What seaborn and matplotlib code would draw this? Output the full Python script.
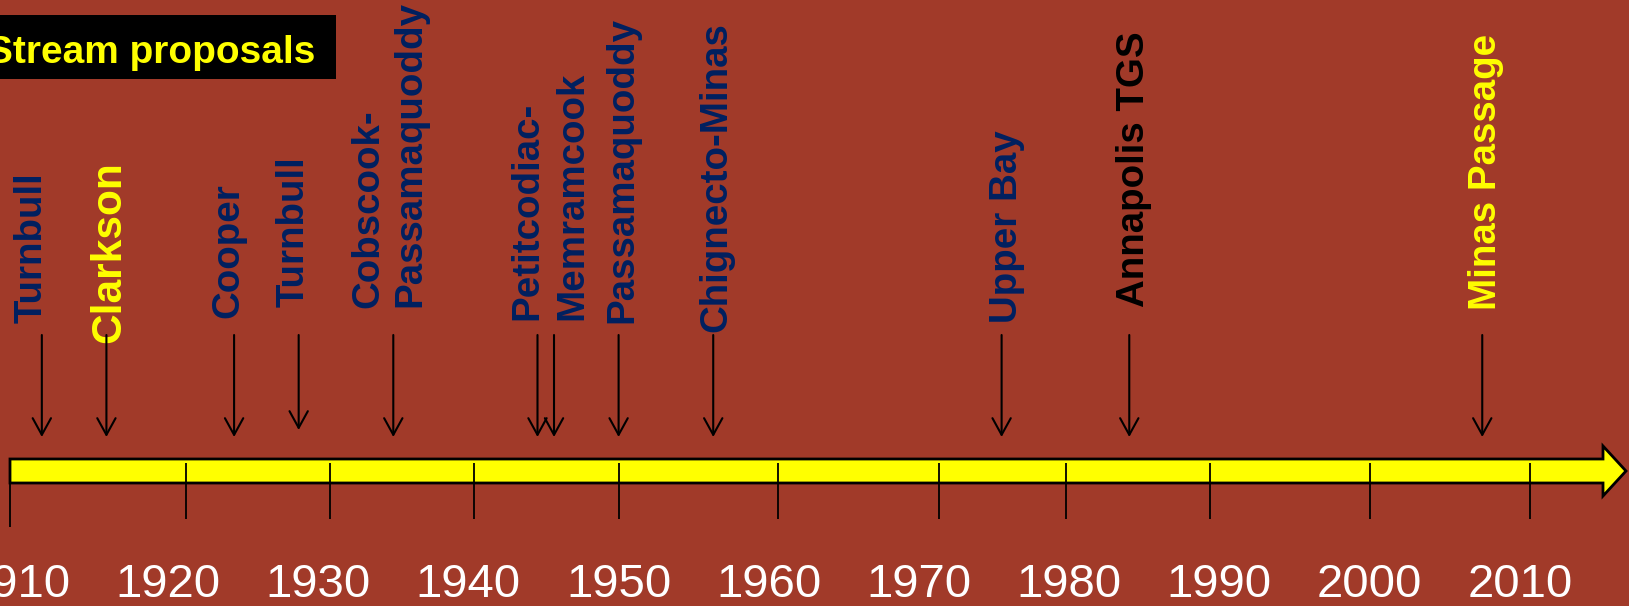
import matplotlib
matplotlib.use("Agg")
import matplotlib.pyplot as plt
from matplotlib.patches import Polygon, Rectangle
import seaborn as sns

# proposal arrows (year each arrow points at)
arrow_years = [1911.6, 1915.9, 1924.4, 1928.7, 1935.0, 1944.6, 1945.7,
               1950.0, 1956.3, 1975.5, 1984.0, 2007.5]

# label lines and where they sit along the timeline (year of the text baseline)
label_text = ['Turnbull', 'Clarkson', 'Cooper', 'Turnbull', 'Cobscook-',
              'Passamaquoddy', 'Petitcodiac-', 'Memramcook', 'Passamaquoddy',
              'Chignecto-Minas', 'Upper Bay', 'Annapolis TGS', 'Minas Passage']
label_year = [1911.6, 1916.8, 1924.7, 1929.0, 1934.0, 1936.8, 1944.6,
              1947.6, 1950.9, 1957.2, 1976.5, 1985.0, 2008.4]

# timeline tick marks as drawn on the slide, and the decade labels
tick_years = [1909.5, 1921.2, 1930.8, 1940.4, 1950.0, 1960.6, 1971.3,
              1979.8, 1989.4, 2000.0, 2010.7]
decades = [1910, 1920, 1930, 1940, 1950, 1960, 1970, 1980, 1990, 2000, 2010]

title = 'Stream proposals'

# ---- layout (pixels) ----
W, H = 1629, 606
X0, PPY = 17.8, 15.02          # pixel of 1910, pixels per year
BG = '#A13A29'
NAVY = '#002060'
YELLOW = '#FFFF00'

label_bottom = [323, 343, 318, 307, 308, 307, 320, 320, 323, 332, 323, 307, 310]
label_color = [NAVY, YELLOW, NAVY, NAVY, NAVY, NAVY, NAVY, NAVY, NAVY,
               NAVY, NAVY, 'black', YELLOW]
label_size = [27.7, 30.6] + [27.7] * 11
arrow_end = [437, 437, 437, 430] + [437] * 8


def yr(px):
    return 1910 + (px - X0) / PPY


sns.set_theme(style='white', rc={'axes.facecolor': BG, 'figure.facecolor': BG})
plt.rcParams['font.family'] = ['Liberation Sans', 'DejaVu Sans']

fig = plt.figure(figsize=(W / 100, H / 100), dpi=100)
ax = fig.add_axes([0, 0, 1, 1])
ax.set_xlim(yr(0), yr(W))
ax.set_ylim(H, 0)
ax.axis('off')

# title box (the slide crops the start of the title)
ax.add_patch(Rectangle((yr(0), 15), yr(336) - yr(0), 64, facecolor='black',
                       edgecolor='none', zorder=1))
ax.text(yr(315), 63, title, color=YELLOW, fontsize=28, fontweight='bold',
        ha='right', va='baseline', zorder=2)

# vertical labels
for t, x, yb, c, s in zip(label_text, label_year, label_bottom, label_color, label_size):
    ax.text(x, yb, t, rotation=90, rotation_mode='anchor', ha='left', va='baseline',
            color=c, fontsize=s, fontweight='bold', zorder=2)

# arrows
for x, ye in zip(arrow_years, arrow_end):
    ax.annotate('', xy=(x, ye), xytext=(x, 335),
                arrowprops=dict(arrowstyle='->,head_length=0.6,head_width=0.33',
                                lw=1.5, color='black', shrinkA=0, shrinkB=0,
                                mutation_scale=20))

# yellow timeline arrow
body = [(yr(10), 459), (yr(1603), 459), (yr(1603), 446), (yr(1626), 471),
        (yr(1603), 496), (yr(1603), 483), (yr(10), 483)]
ax.add_patch(Polygon(body, closed=True, facecolor=YELLOW, edgecolor='black',
                     lw=2, joinstyle='miter', zorder=2))

# tick marks
ax.vlines(tick_years[:1], 463, 527, color='black', lw=1.3, zorder=3)
ax.vlines(tick_years[1:], 463, 519, color='black', lw=1.3, zorder=3)

# decade labels
for d in decades:
    ax.text(d, 597, str(d), color='white', fontsize=34, ha='center', va='baseline')

fig.savefig('out.png', dpi=100, facecolor=BG)
